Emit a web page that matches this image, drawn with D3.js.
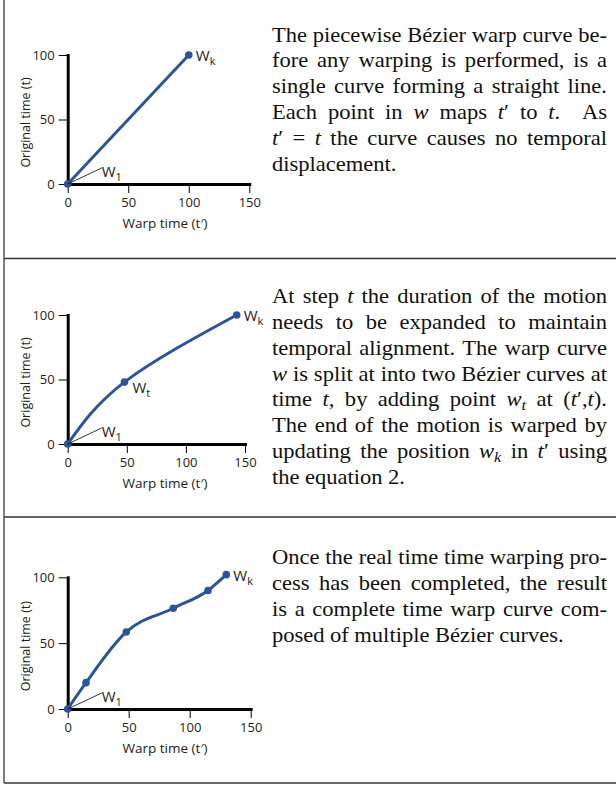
<!DOCTYPE html>
<html>
<head>
<meta charset="utf-8">
<script src="https://cdn.jsdelivr.net/npm/d3@7"></script>
<style>
  body { margin: 0; background: #fff; }
  svg { display: block; }
  .tick text { font-family: "Open Sans", sans-serif; font-size: 13px; fill: #222; }
  .axisTitle { font-family: "Open Sans", sans-serif; font-size: 13.5px; fill: #222; }
  .yTitle { font-size: 12.5px; }
  .ptLabel { font-family: "Open Sans", sans-serif; font-size: 15px; fill: #222; }
  .cap { font-family: "Liberation Serif", "Times New Roman", serif; font-size: 20.5px; fill: #111; }
</style>
</head>
<body>
<div id="fig"></div>
<script>
// Tick labels shared by the three plots
var xTicks = [0, 50, 100, 150];
var yTicks = [0, 50, 100];

// Warp curve points: warp time (t') and original time (t)
var warpT1 = [0, 100];
var origT1 = [0, 100];
var names1 = ["1", "k"];

var warpT2 = [0, 48, 143];
var origT2 = [0, 48, 100];
var names2 = ["1", "t", "k"];

var warpT3 = [0, 15, 48, 86.5, 115, 130];
var origT3 = [0, 20, 58.5, 76.5, 90, 102];
var names3 = ["1", "", "", "", "", "k"];

// Captions (*x* = italic, _{x} = italic subscript)
var caption1 = [
  "The piecewise Bézier warp curve be-",
  "fore any warping is performed, is a",
  "single curve forming a straight line.",
  "Each point in *w* maps *t*′ to *t*.  As",
  "*t*′ = *t* the curve causes no temporal",
  "displacement."
];
var caption2 = [
  "At step *t* the duration of the motion",
  "needs to be expanded to maintain",
  "temporal alignment. The warp curve",
  "*w* is split at into two Bézier curves at",
  "time *t*, by adding point *w*_{t} at (*t*′,*t*).",
  "The end of the motion is warped by",
  "updating the position *w*_{k} in *t*′ using",
  "the equation 2."
];
var caption3 = [
  "Once the real time time warping pro-",
  "cess has been completed, the result",
  "is a complete time warp curve com-",
  "posed of multiple Bézier curves."
];

var blue = "#2b5597";

var svg = d3.select("#fig").append("svg")
  .attr("width", 616)
  .attr("height", 786);

// frame lines
svg.append("line").attr("x1", 4).attr("x2", 4).attr("y1", 0).attr("y2", 783)
  .attr("stroke", "#555").attr("stroke-width", 1.5);
[258.5, 517, 783].forEach(function(yy) {
  svg.append("line").attr("x1", 4).attr("x2", 616).attr("y1", yy).attr("y2", yy)
    .attr("stroke", "#333").attr("stroke-width", 1.6);
});

var panels = [
  { t: warpT1, o: origT1, names: names1, xEnd: 249.3, yTop: 55, yZero: 184,
    curve: d3.curveLinear, caption: caption1, capY: 41.7 },
  { t: warpT2, o: origT2, names: names2, xEnd: 245, yTop: 315, yZero: 444,
    curve: d3.curveNatural, caption: caption2, capY: 303.3 },
  { t: warpT3, o: origT3, names: names3, xEnd: 250.7, yTop: 577.3, yZero: 709,
    curve: d3.curveMonotoneX, caption: caption3, capY: 564.3 }
];

panels.forEach(function(p) {
  var xScale = d3.scaleLinear().domain([0, 150]).range([67.7, p.xEnd]);
  var yScale = d3.scaleLinear().domain([0, 100]).range([p.yZero, p.yTop]);
  var g = svg.append("g");

  // axes
  var yAxisG = g.append("g")
    .attr("transform", "translate(" + xScale(0) + ",0)")
    .call(d3.axisLeft(yScale).tickValues(yTicks).tickSize(9).tickSizeOuter(0).tickPadding(4));
  var xAxisG = g.append("g")
    .attr("transform", "translate(0," + yScale(0) + ")")
    .call(d3.axisBottom(xScale).tickValues(xTicks).tickSize(9).tickSizeOuter(0).tickPadding(5));
  [yAxisG, xAxisG].forEach(function(a) {
    a.select(".domain").attr("stroke", "#000").attr("stroke-width", 3).attr("stroke-linecap", "square");
    a.selectAll(".tick line").attr("stroke", "#000").attr("stroke-width", 1);
  });

  // axis titles
  g.append("text")
    .attr("class", "axisTitle yTitle")
    .attr("transform", "translate(30," + ((p.yTop + p.yZero) / 2 + 3) + ") rotate(-90)")
    .style("text-anchor", "middle")
    .text("Original time (t)");
  g.append("text")
    .attr("class", "axisTitle")
    .attr("x", 165)
    .attr("y", p.yZero + 43.5)
    .style("text-anchor", "middle")
    .text("Warp time (t′)");

  var pts = p.t.map(function(d, i) { return { t: d, o: p.o[i], name: p.names[i] }; });

  // warp curve
  var line = d3.line()
    .x(function(d) { return xScale(d.t); })
    .y(function(d) { return yScale(d.o); })
    .curve(p.curve);
  g.append("path")
    .datum(pts)
    .attr("d", line)
    .attr("fill", "none")
    .attr("stroke", blue)
    .attr("stroke-width", 3);

  g.selectAll("circle").data(pts).enter()
    .append("circle")
    .attr("cx", function(d) { return xScale(d.t); })
    .attr("cy", function(d) { return yScale(d.o); })
    .attr("r", 3.8)
    .attr("fill", blue);

  // point labels
  pts.forEach(function(d) {
    if (!d.name) return;
    var px = xScale(d.t), py = yScale(d.o);
    var lx, ly;
    if (d.name === "1") {
      g.append("line")
        .attr("x1", px).attr("y1", py)
        .attr("x2", px + 34).attr("y2", py - 16)
        .attr("stroke", "#000").attr("stroke-width", 0.8);
      lx = px + 34; ly = py - 7;
    } else if (d.name === "t") {
      lx = px + 8; ly = py + 11;
    } else {
      lx = px + 7; ly = py + 6;
    }
    var lab = g.append("text").attr("class", "ptLabel").attr("x", lx).attr("y", ly);
    lab.append("tspan").text("W");
    lab.append("tspan").attr("dy", 4).attr("font-size", "11px").text(d.name);
  });

  drawCaption(p.caption, 272, 607, p.capY, 25.8);
});

// justified caption text
function addSegments(t, word) {
  var parts = word.split(/(\*[^*]+\*|_\{[^}]+\})/).filter(function(s) { return s.length; });
  parts.forEach(function(s) {
    if (s[0] === "*") {
      t.append("tspan").style("font-style", "italic").text(s.slice(1, -1));
    } else if (s[0] === "_" && s[1] === "{") {
      t.append("tspan").style("font-style", "italic").attr("font-size", "15px")
        .attr("dy", 4).text(s.slice(2, -1));
    } else {
      t.append("tspan").text(s);
    }
  });
}

function drawCaption(lines, x0, x1, y0, lh) {
  // glyphs in the source are slightly wider than tall
  var sx = 1.1;
  var cg = svg.append("g").attr("transform", "translate(" + x0 + ",0) scale(" + sx + ",1)");
  var width = (x1 - x0) / sx;
  lines.forEach(function(line, li) {
    var yy = y0 + li * lh;
    var items = [], weights = [];
    line.split(" ").forEach(function(w) {
      if (w === "") { weights[weights.length - 1] += 1; }
      else { items.push(w); weights.push(1); }
    });
    var nodes = items.map(function(w) {
      var t = cg.append("text").attr("class", "cap").attr("y", yy);
      addSegments(t, w);
      return t;
    });
    var widths = nodes.map(function(n) { return n.node().getComputedTextLength(); });
    var total = d3.sum(widths);
    var units = d3.sum(weights.slice(0, -1));
    var last = li === lines.length - 1;
    var gap = last ? 5 : (width - total) / units;
    var cx = 0;
    nodes.forEach(function(n, i) {
      n.attr("x", cx);
      cx += widths[i] + gap * weights[i];
    });
  });
}
</script>
</body>
</html>
